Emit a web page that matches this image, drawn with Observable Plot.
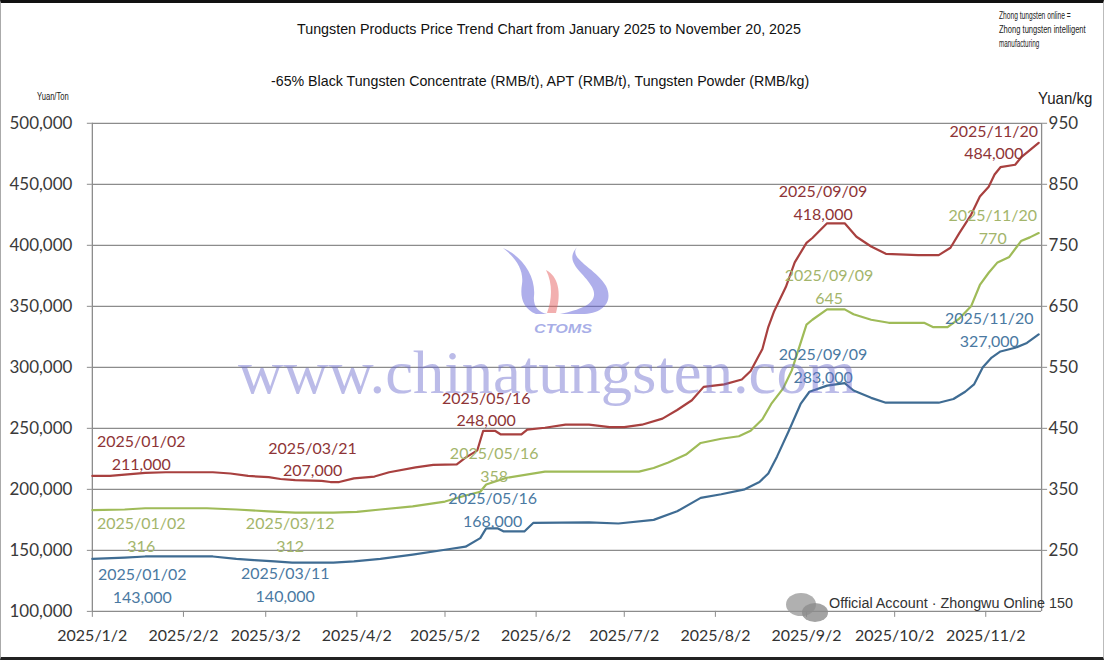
<!DOCTYPE html>
<html><head><meta charset="utf-8">
<script src="https://cdn.jsdelivr.net/npm/d3@7"></script>
<script src="https://cdn.jsdelivr.net/npm/@observablehq/plot@0.6"></script>
<style>
body{margin:0;background:#fff;}
#wrap{position:relative;width:1104px;height:660px;overflow:hidden;background:#fff;box-sizing:border-box;border-top:3px solid #111;border-bottom:3px solid #222;border-left:1px solid #aaa;border-right:1px solid #bbb;}
#wrap svg.chart{position:absolute;left:-1px;top:-3px;}
.ov{position:absolute;white-space:nowrap;transform-origin:left center;line-height:1;}
</style></head><body><div id="wrap"></div>
<script>
// ---------- data ----------
const concentrateDates = ["2025/01/02","2025/01/08","2025/01/13","2025/01/20","2025/01/27","2025/02/12","2025/02/18","2025/02/24","2025/03/03","2025/03/07","2025/03/12","2025/03/21","2025/03/24","2025/03/27","2025/04/01","2025/04/08","2025/04/13","2025/04/22","2025/04/28","2025/05/06","2025/05/09","2025/05/13","2025/05/15","2025/05/16","2025/05/19","2025/05/21","2025/05/28","2025/05/30","2025/06/05","2025/06/12","2025/06/20","2025/06/27","2025/07/02","2025/07/08","2025/07/15","2025/07/20","2025/07/25","2025/07/29","2025/08/05","2025/08/11","2025/08/14","2025/08/18","2025/08/20","2025/08/22","2025/08/26","2025/08/29","2025/09/02","2025/09/04","2025/09/09","2025/09/15","2025/09/19","2025/09/24","2025/09/29","2025/10/10","2025/10/17","2025/10/21","2025/10/24","2025/10/28","2025/10/31","2025/11/03","2025/11/05","2025/11/07","2025/11/12","2025/11/14","2025/11/17","2025/11/20"];
const concentrateValues = [211000,211000,212000,213500,214000,214000,213000,211000,210000,208500,207500,207000,206000,206000,209000,210500,214000,218000,220000,220500,226000,232000,248000,248000,248000,245000,245000,249000,250500,253000,253000,251000,251000,253000,258000,265000,273000,284000,286000,290000,297000,315000,333000,346000,366000,386000,402000,406000,418000,418000,407000,399000,393000,392000,392000,398000,410000,425000,440000,448000,458000,464000,466000,472000,478000,484000];

const aptDates = ["2025/01/02","2025/01/13","2025/01/20","2025/02/12","2025/02/20","2025/02/26","2025/03/05","2025/03/11","2025/03/25","2025/04/01","2025/04/10","2025/04/21","2025/05/02","2025/05/09","2025/05/14","2025/05/16","2025/05/20","2025/05/22","2025/05/29","2025/06/01","2025/06/20","2025/06/30","2025/07/12","2025/07/20","2025/07/28","2025/08/04","2025/08/12","2025/08/17","2025/08/20","2025/08/23","2025/08/27","2025/08/31","2025/09/03","2025/09/09","2025/09/15","2025/09/18","2025/09/24","2025/09/29","2025/10/17","2025/10/22","2025/10/26","2025/10/29","2025/11/01","2025/11/04","2025/11/07","2025/11/12","2025/11/16","2025/11/20"];
const aptValues = [143000,144000,145000,145000,143000,142000,141000,140000,140000,141000,143000,146500,150500,153000,160000,168000,168000,165500,165500,172500,173000,172000,175000,182000,193000,196000,200000,206000,213000,227000,248000,270000,280000,285000,287000,281000,275000,271000,271000,274000,280000,286000,300000,308000,313000,316000,320000,327000];

const powderDates = ["2025/01/02","2025/01/13","2025/01/20","2025/02/10","2025/02/20","2025/03/03","2025/03/12","2025/03/25","2025/04/02","2025/04/10","2025/04/21","2025/05/02","2025/05/09","2025/05/14","2025/05/16","2025/05/23","2025/06/05","2025/07/07","2025/07/12","2025/07/17","2025/07/23","2025/07/28","2025/08/04","2025/08/10","2025/08/14","2025/08/18","2025/08/21","2025/08/25","2025/08/28","2025/09/02","2025/09/04","2025/09/09","2025/09/15","2025/09/18","2025/09/24","2025/09/30","2025/10/12","2025/10/15","2025/10/20","2025/10/24","2025/10/28","2025/10/31","2025/11/03","2025/11/06","2025/11/10","2025/11/14","2025/11/17","2025/11/20"];
const powderValues = [316,317,319,319,317,314,312,312,313,317,322,330,340,346,358,369,379,379,385,394,407,426,433,437,446,465,490,515,545,620,628,645,645,637,628,623,623,616,616,630,650,685,705,722,731,757,763,770];

// annotated points
const concentrateNoteDates = ["2025/01/02","2025/03/21","2025/05/16","2025/09/09","2025/11/20"];
const concentrateNoteValues = [211000,207000,248000,418000,484000];
const aptNoteDates = ["2025/01/02","2025/03/11","2025/05/16","2025/09/09","2025/11/20"];
const aptNoteValues = [143000,140000,168000,283000,327000];
const powderNoteDates = ["2025/01/02","2025/03/12","2025/05/16","2025/09/09","2025/11/20"];
const powderNoteValues = [316,312,358,645,770];

// axes
const xTickLabels = ["2025/1/2","2025/2/2","2025/3/2","2025/4/2","2025/5/2","2025/6/2","2025/7/2","2025/8/2","2025/9/2","2025/10/2","2025/11/2"];
const leftTickValues = [100000,150000,200000,250000,300000,350000,400000,450000,500000];
const rightTickValues = [250,350,450,550,650,750,850,950];
const leftDomain = [100000,500000];
const rightDomain = [150,950];
const xDomainLabels = ["2025/1/2","2025/11/21"];

// ---------- styles ----------
const C = {
  conc: {line:"#a8403f", text:"#8e3436"},
  apt:  {line:"#3f6c93", text:"#4a79a2"},
  powder:{line:"#9fbb58", text:"#a3b56b"}
};
const noteOffsets = {
  conc:   [[49,-24.5],[-9,-23],[0,-23],[-4,-22],[-45,-2]],
  apt:    [[50,25.5],[-7,21],[6.5,-20],[-4,-24],[-49.5,-6]],
  powder: [[49,23],[-5,21],[8,-21],[2,-24],[-46,-8]]
};

const parse = d3.utcParse("%Y/%m/%d");
const toLeft = d3.scaleLinear().domain(rightDomain).range(leftDomain);
const comma = d3.format(",");

const concData = concentrateDates.map((d,i)=>({date:parse(d), y:concentrateValues[i]}));
const aptData = aptDates.map((d,i)=>({date:parse(d), y:aptValues[i]}));
const powderData = powderDates.map((d,i)=>({date:parse(d), y:toLeft(powderValues[i])}));

function notes(dates, values, toY, fmt, key){
  return dates.map((d,i)=>Plot.text([{date:parse(d), y:toY(values[i]), label:d+"\n"+fmt(values[i])}], {
    x:"date", y:"y", text:"label", dx:noteOffsets[key][i][0], dy:noteOffsets[key][i][1],
    fill:C[key].text, fontSize:16, lineHeight:1.42, textAnchor:"middle"
  }));
}

const xTicks = xTickLabels.map(parse);
const xLabelMap = new Map(xTicks.map((d,i)=>[+d, xTickLabels[i]]));
const grid = "#8c8c8c";

const chart = Plot.plot({
  width:1104, height:660,
  marginTop:123, marginBottom:48, marginLeft:92, marginRight:61,
  style:{fontFamily:"Lato, 'Open Sans', sans-serif", background:"transparent", overflow:"visible"},
  x:{type:"utc", domain:xDomainLabels.map(parse)},
  y:{domain:leftDomain},
  marks:[
    Plot.gridY(leftTickValues, {stroke:grid, strokeOpacity:1, strokeWidth:1.3}),
    Plot.ruleX(xDomainLabels.map(parse), {stroke:grid, strokeWidth:1.3}),
    Plot.axisY({ticks:leftTickValues, anchor:"left", tickSize:5, tickPadding:15, tickFormat:comma, fontSize:17, fill:"#3a3a3a", stroke:grid, label:null}),
    Plot.axisY({ticks:rightTickValues.map(toLeft), anchor:"right", tickSize:5, tickPadding:2, tickFormat:d=>String(Math.round(toLeft.invert(d))), fontSize:17, fill:"#3a3a3a", stroke:grid, label:null}),
    Plot.axisX({ticks:xTicks, tickSize:6, tickPadding:12, tickFormat:d=>xLabelMap.get(+d), fontSize:16, fill:"#333", stroke:grid, label:null}),
    Plot.line(concData, {x:"date", y:"y", stroke:C.conc.line, strokeWidth:2.2}),
    Plot.line(aptData, {x:"date", y:"y", stroke:C.apt.line, strokeWidth:2.2}),
    Plot.line(powderData, {x:"date", y:"y", stroke:C.powder.line, strokeWidth:2.2}),
    ...notes(concentrateNoteDates, concentrateNoteValues, v=>v, comma, "conc"),
    ...notes(aptNoteDates, aptNoteValues, v=>v, comma, "apt"),
    ...notes(powderNoteDates, powderNoteValues, toLeft, String, "powder")
  ]
});
chart.classList.add("chart");
const wrap = document.getElementById("wrap");
wrap.appendChild(chart);

// ---------- overlay texts ----------
const narrow = "'Liberation Sans Narrow','Arial Narrow','Liberation Sans',Arial,sans-serif";
function addText(txt, x, w, y, size, family, color, extra){
  const el = document.createElement("div");
  el.className = "ov";
  el.textContent = txt;
  el.style.left = x + "px";
  el.style.top = (y - 3) + "px";
  el.style.fontSize = size + "px";
  el.style.fontFamily = family;
  el.style.color = color;
  if (extra) Object.assign(el.style, extra);
  wrap.appendChild(el);
  const s = w / el.offsetWidth;
  el.style.transform = `translateY(-50%) scaleX(${s})`;
  return el;
}
addText("Tungsten Products Price Trend Chart from January 2025 to November 20, 2025", 296, 504, 28, 15, narrow, "#111");
addText("-65% Black Tungsten Concentrate (RMB/t), APT (RMB/t), Tungsten Powder (RMB/kg)", 270, 538, 80, 15, narrow, "#111");
addText("Zhong tungsten online =", 998, 72, 16, 10, narrow, "#222");
addText("Zhong tungsten intelligent", 998, 87, 30, 10, narrow, "#222");
addText("manufacturing", 998, 40, 44, 10, narrow, "#222");
addText("Yuan/Ton", 36, 32, 97, 10, narrow, "#222");
addText("Yuan/kg", 1037, 54, 98, 17, narrow, "#222");

// watermark
addText("www.chinatungsten.com", 237, 618, 372, 62, "'Liberation Serif','Times New Roman',serif", "rgba(105,105,205,0.45)");
addText("CTOMS", 533, 58, 329, 12, "'Liberation Sans',Arial,sans-serif", "rgba(110,120,215,0.6)", {fontStyle:"italic", fontWeight:"bold"});
const logo = document.createElementNS("http://www.w3.org/2000/svg","svg");
logo.setAttribute("width","1104"); logo.setAttribute("height","660");
logo.style.position="absolute"; logo.style.left="-1px"; logo.style.top="-3px"; logo.style.pointerEvents="none";
logo.innerHTML = `
 <path d="M503,248 C522,256 536,276 534,296 C533,306 538,312 547,314 L536,314 C522,308 520,296 522,284 C524,270 516,258 503,248 Z" fill="rgba(95,95,215,0.5)"/>
 <path d="M546,270 C558,276 562,292 556,313 L547,313 C552,300 553,284 546,270 Z" fill="rgba(230,95,95,0.5)"/>
 <path d="M578,246 C566,258 596,268 606,286 C614,302 602,314 582,314 L560,314 C584,309 600,302 592,287 C584,272 562,262 578,246 Z" fill="rgba(95,95,215,0.5)"/>`;
wrap.appendChild(logo);

// footer badge
const b1 = document.createElement("div");
Object.assign(b1.style,{position:"absolute",left:"785px",top:"590px",width:"30px",height:"23px",borderRadius:"50%",background:"rgba(150,150,150,0.75)"});
const b2 = document.createElement("div");
Object.assign(b2.style,{position:"absolute",left:"801px",top:"600px",width:"26px",height:"19px",borderRadius:"50%",background:"rgba(140,140,140,0.8)"});
wrap.appendChild(b1); wrap.appendChild(b2);
addText("Official Account · Zhongwu Online 150", 828, 244, 603, 14, "'Liberation Sans',Arial,sans-serif", "#333");
</script></body></html>
